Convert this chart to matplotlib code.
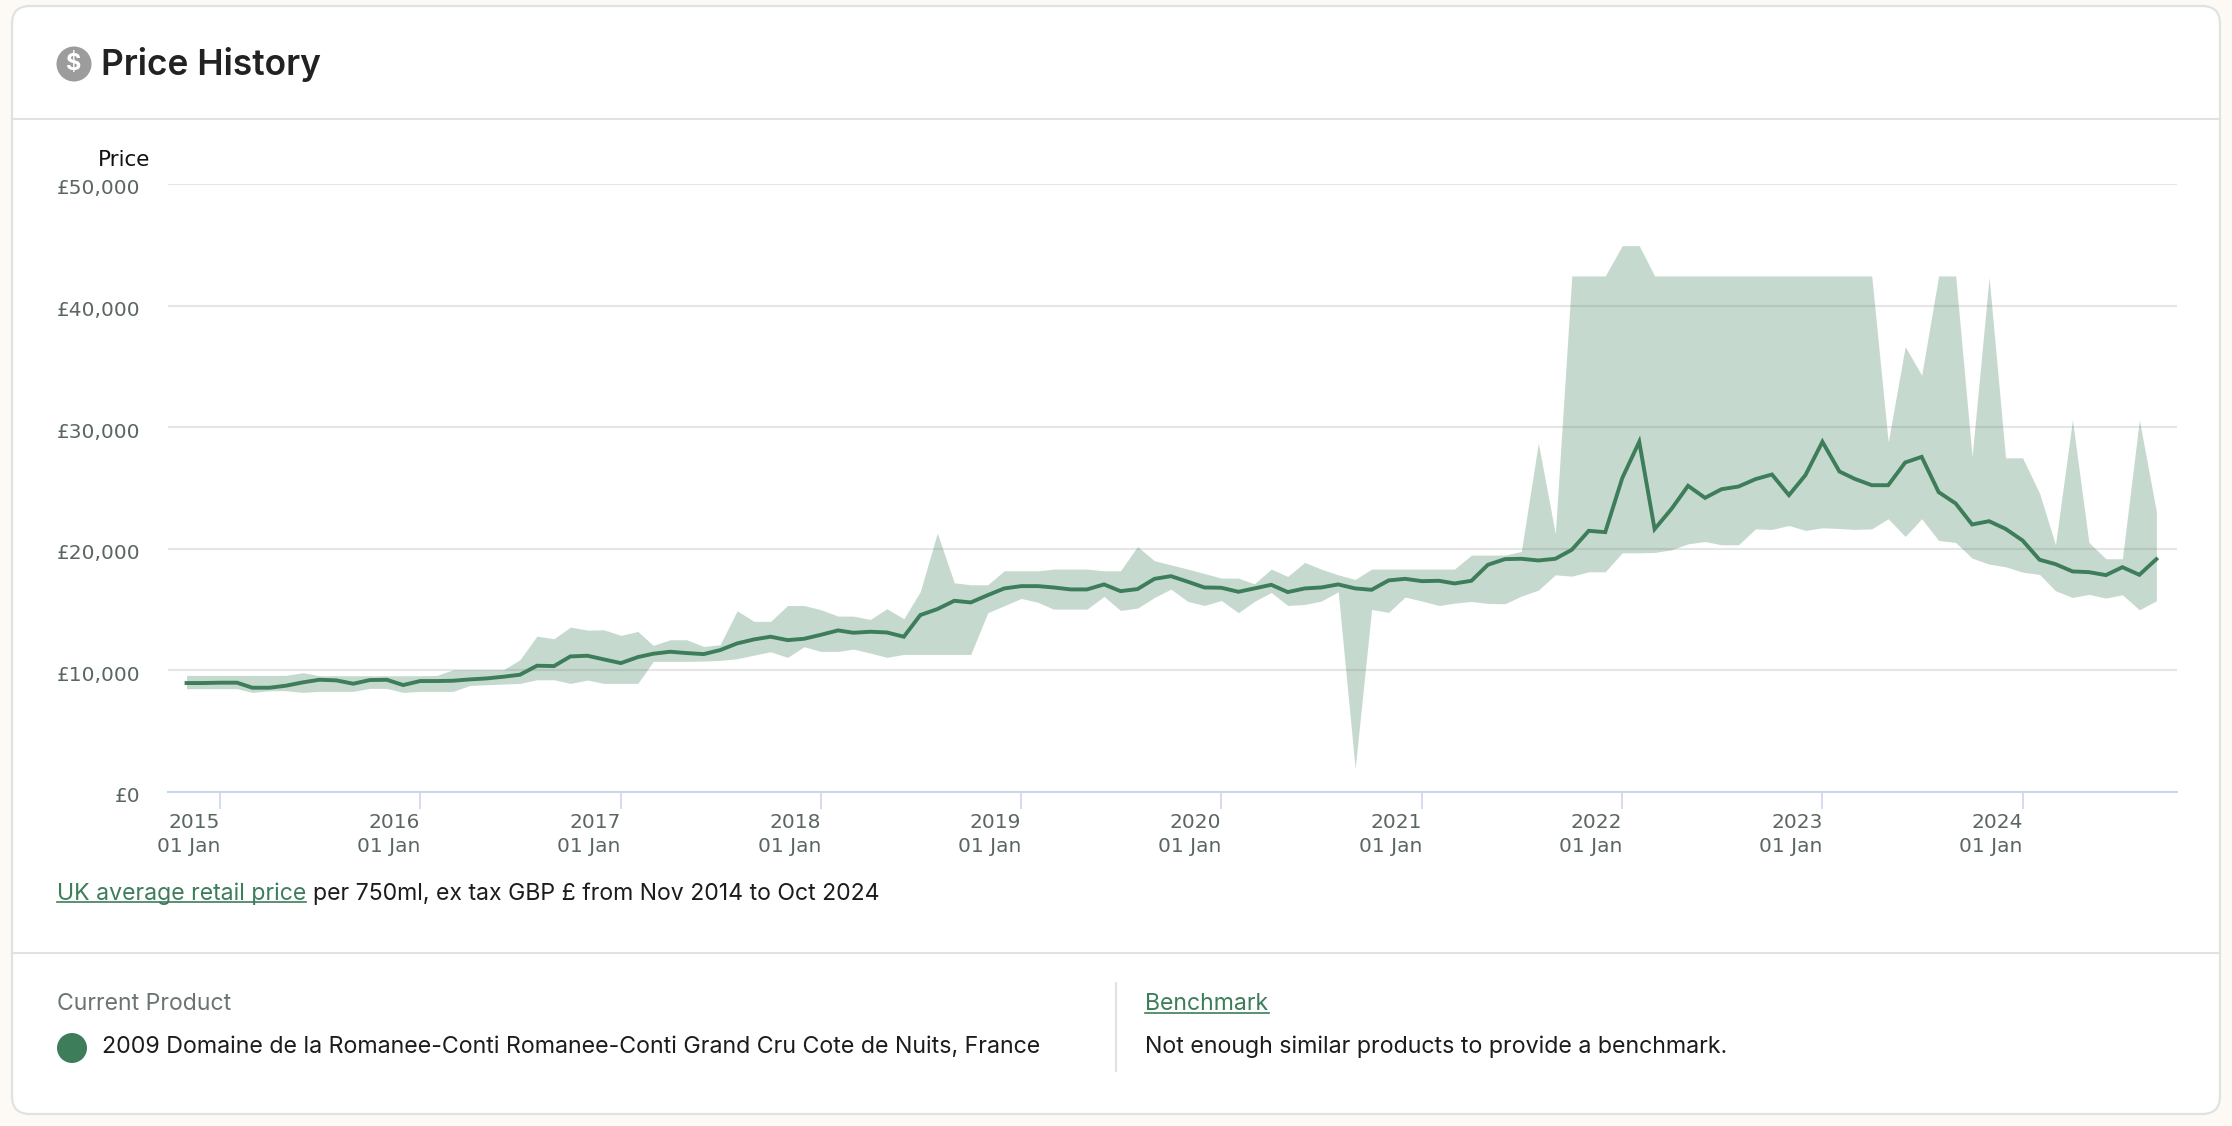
import matplotlib
matplotlib.use('Agg')
import matplotlib.pyplot as plt
import matplotlib.dates as mdates
from matplotlib.patches import Circle, FancyBboxPatch
from matplotlib.transforms import ScaledTranslation
import pandas as pd

W, H = 2232, 1126
GREEN = '#3d7d5a'
BORDER = '#dfe3e2'
PAGE = '#fdfaf5'

# Monthly series
months = pd.date_range('2014-11-01', '2024-09-01', freq='MS')

mean_price = [
    8960, 8960, 8990, 8990, 8575, 8575, 8740, 9015, 9230, 9180, 8905, 9205, 9230, 8795, 9125, 9125,
    9150, 9260, 9340, 9480, 9645, 10385, 10355, 11150, 11205, 10905, 10600, 11095, 11370, 11535, 11425,
    11340, 11670, 12220, 12550, 12770, 12490, 12600, 12930, 13290, 13095, 13180, 13120, 12770, 14550, 15040,
    15725, 15590, 16190, 16740, 16930, 16930, 16820, 16660, 16660, 17070, 16520, 16685, 17530, 17750, 17290,
    16820, 16795, 16465, 16740, 17040, 16440, 16740, 16820, 17070, 16740, 16630, 17400, 17530, 17340, 17370,
    17150, 17370, 18685, 19150, 19180,
    19040, 19180, 19920, 21480, 21370, 25810, 28800, 21620, 23290, 25180, 24190, 24900, 25120, 25730, 26110,
    24410, 26055, 28800, 26360, 25750,
    25230, 25230, 27100, 27560, 24660, 23730, 22000, 22270, 21640, 20685, 19100, 18740, 18140, 18080, 17835,
    18490, 17860, 19150,
]

upper_price = [
    9590, 9590, 9590, 9590, 9590, 9590, 9590, 9810, 9560, 9560, 9560, 9560, 9560, 9560, 9560, 9590,
    10055, 10055, 10055, 10055, 10880, 12820, 12600, 13560, 13315, 13340, 12880, 13205, 12055, 12520, 12520,
    11970, 12110, 14900, 14030, 14030, 15340, 15340, 14985, 14465, 14465, 14190, 15070, 14245, 16490, 21290,
    17205, 17040, 17040, 18190, 18190, 18190, 18330, 18330, 18330, 18190, 18190, 20190, 19015, 18685, 18330,
    17970, 17590, 17590, 17120, 18330, 17725, 18880, 18330, 17860, 17480, 18330, 18330, 18330, 18330, 18330,
    18330, 19480, 19480, 19480, 19780,
    28690, 21230, 42440, 42440, 42440, 44930, 44930,
    42440, 42440, 42440, 42440, 42440, 42440, 42440, 42440, 42440, 42440, 42440, 42440, 42440, 42440,
    28770, 36630, 34275, 42440, 42440, 27590, 42330, 27480, 27480, 24575, 20330, 30600, 20520, 19180, 19180,
    30600, 23070,
]

lower_price = [
    8495, 8495, 8495, 8495, 8190, 8330, 8330, 8190, 8275, 8275, 8275, 8520, 8520, 8190, 8275, 8275,
    8275, 8765, 8820, 8875, 8930, 9230, 9230, 8930, 9205, 8930, 8930, 8930, 10740, 10740, 10740,
    10770, 10820, 10960, 11260, 11530, 11070, 11945, 11560, 11560, 11750, 11425, 11070, 11315, 11315, 11315,
    11315, 11315, 14740, 15315, 15920, 15590, 15040, 15040, 15040, 16080, 14930, 15120, 16000, 16685, 15670,
    15340, 15750, 14740, 15670, 16410, 15340, 15420, 15700, 16465, 1940, 15010, 14770, 16030, 15700, 15340,
    15530, 15670, 15505, 15480, 16110,
    16600, 17860, 17750, 18110, 18110, 19670, 19670, 19700, 19920, 20410, 20600, 20330, 20330, 21640, 21590,
    21920, 21510, 21730, 21670, 21590,
    21640, 22470, 21010, 22470, 20685, 20520, 19230, 18740, 18520, 18080, 17890, 16550, 16000, 16250, 15945,
    16220, 14985, 15725,
]

y_ticks = [0, 10000, 20000, 30000, 40000, 50000]
y_labels = ['£0', '£10,000', '£20,000', '£30,000', '£40,000', '£50,000']
x_years = [2015, 2016, 2017, 2018, 2019, 2020, 2021, 2022, 2023, 2024]

fig = plt.figure(figsize=(W / 100, H / 100), dpi=100, facecolor=PAGE)

# Page layer, one unit is one pixel
page = fig.add_axes([0, 0, 1, 1], zorder=0)
page.set_xlim(0, W)
page.set_ylim(H, 0)
page.axis('off')

page.add_patch(FancyBboxPatch((12, 6), 2208, 1108, boxstyle='round,pad=0,rounding_size=18',
                              facecolor='white', edgecolor=BORDER, linewidth=1.6))
page.plot([12, 2220], [119, 119], color=BORDER, lw=1.5)
page.plot([12, 2220], [953, 953], color=BORDER, lw=1.5)
page.plot([1116, 1116], [983, 1071], color=BORDER, lw=1.5)

# Title and icon
page.add_patch(Circle((74, 64), 17.5, facecolor='#9c9c9c', edgecolor='none'))
page.text(74, 64, '$', color='white', fontsize=17, fontweight='bold', family='Inter', ha='center', va='center')
page.text(101, 65, 'Price History', color='#222222', fontsize=25.4, fontweight='semibold', family='Inter',
          ha='left', va='center')

# Caption
page.text(57, 894, 'UK average retail price', color=GREEN, fontsize=16.6, family='Inter', ha='left', va='center')
page.plot([57, 306], [902, 902], color=GREEN, lw=1.2)
page.text(313, 894, 'per 750ml, ex tax GBP £ from Nov 2014 to Oct 2024', color='#1c1c1c', fontsize=16.6,
          family='Inter', ha='left', va='center')

# Footer
page.text(57, 1004, 'Current Product', color='#6b7570', fontsize=16.6, family='Inter', ha='left', va='center')
page.add_patch(Circle((72, 1048), 15, facecolor=GREEN, edgecolor='none'))
page.text(102, 1047, '2009 Domaine de la Romanee-Conti Romanee-Conti Grand Cru Cote de Nuits, France',
          color='#1c1c1c', fontsize=16.7, family='Inter', ha='left', va='center')
page.text(1145, 1004, 'Benchmark', color=GREEN, fontsize=16.6, family='Inter', ha='left', va='center')
page.plot([1145, 1269], [1013, 1013], color=GREEN, lw=1.2)
page.text(1145, 1047, 'Not enough similar products to provide a benchmark.', color='#1c1c1c', fontsize=16.7,
          family='Inter', ha='left', va='center')

# Chart
left, right, top, bottom = 168, 2177, 184, 792
ax = fig.add_axes([left / W, 1 - bottom / H, (right - left) / W, (bottom - top) / H], zorder=1)
ax.patch.set_alpha(0)

px_per_day = 200.3 / 365.25
jan_2015 = mdates.date2num(pd.Timestamp('2015-01-01'))
ax.set_xlim(jan_2015 - (220 - left) / px_per_day, jan_2015 + (right - 220) / px_per_day)
ax.set_ylim(0, 50000)

ax.fill_between(months, lower_price, upper_price, color=GREEN, alpha=0.29, linewidth=0, zorder=3)
ax.plot(months, mean_price, color=GREEN, lw=2.8, zorder=4, solid_joinstyle='miter')

for s in ['top', 'left', 'right']:
    ax.spines[s].set_visible(False)
ax.spines['bottom'].set_color('#ccd6eb')
ax.spines['bottom'].set_linewidth(1.5)
ax.set_axisbelow(True)
ax.grid(axis='y', color='#e6e6e6', lw=1.5)

ax.set_yticks(y_ticks)
ax.set_yticklabels(y_labels, fontsize=14.5, color='#5a6660', family='DejaVu Sans')
ax.tick_params(axis='y', length=0, pad=20)
offset = ScaledTranslation(0, -0.03, fig.dpi_scale_trans)
for lab in ax.get_yticklabels():
    lab.set_transform(lab.get_transform() + offset)

ax.set_xticks([pd.Timestamp(f'{y}-01-01') for y in x_years])
ax.set_xticklabels([f'{y}\n01 Jan' for y in x_years], fontsize=14.5, color='#5a6660', ha='right',
                   family='DejaVu Sans', linespacing=1.33)
ax.tick_params(axis='x', length=12, width=1.2, color='#ccd6eb', pad=3)

page.text(150, 160, 'Price', color='#111111', fontsize=15.5, family='DejaVu Sans', ha='right', va='center')

fig.savefig('out.png', dpi=100, facecolor=PAGE)
